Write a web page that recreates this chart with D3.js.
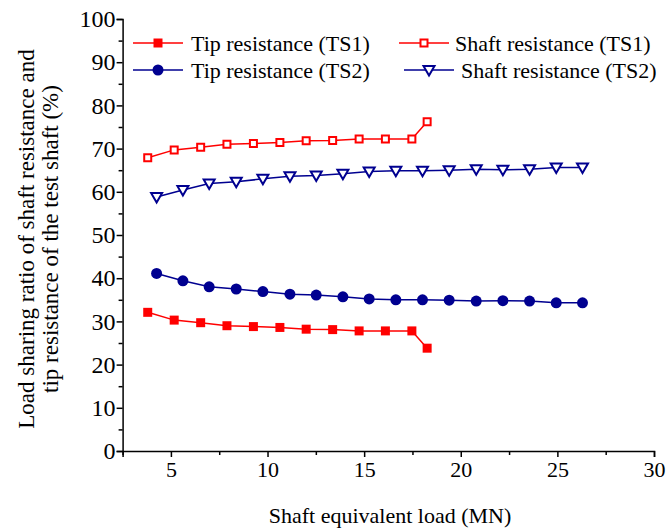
<!DOCTYPE html>
<html><head><meta charset="utf-8">
<script src="https://cdn.jsdelivr.net/npm/d3@7"></script>
<style>body{margin:0;background:#fff}svg{display:block}</style>
</head><body><div id="c"></div>
<script>
const xTS1 = [3.8, 5.17, 6.54, 7.9, 9.27, 10.64, 12.0, 13.37, 14.74, 16.1, 17.47, 18.26];
const tipTS1 = [32.1, 30.3, 29.7, 29.0, 28.8, 28.6, 28.2, 28.1, 27.8, 27.8, 27.8, 23.8];
const shaftTS1 = [67.9, 69.7, 70.3, 71.0, 71.2, 71.4, 71.8, 71.9, 72.2, 72.2, 72.2, 76.2];
const xTS2 = [4.26, 5.62, 6.98, 8.38, 9.76, 11.16, 12.52, 13.9, 15.26, 16.64, 18.02, 19.4, 20.8, 22.18, 23.56, 24.94, 26.3];
const tipTS2 = [41.1, 39.4, 38.0, 37.5, 36.9, 36.3, 36.1, 35.7, 35.2, 35.0, 35.0, 34.9, 34.7, 34.8, 34.7, 34.3, 34.3];
const shaftTS2 = [58.8, 60.4, 61.9, 62.3, 63.0, 63.6, 63.8, 64.2, 64.7, 64.9, 64.9, 65.0, 65.2, 65.1, 65.2, 65.6, 65.6];
const xTicks = [5, 10, 15, 20, 25, 30];
const yTicks = [0, 10, 20, 30, 40, 50, 60, 70, 80, 90, 100];
const seriesNames = ["Tip resistance (TS1)", "Shaft resistance (TS1)", "Tip resistance (TS2)", "Shaft resistance (TS2)"];

const FONT = "'Liberation Serif', 'Times New Roman', 'DejaVu Serif', serif";
const W = 666, H = 528;
const svg = d3.select("#c").append("svg").attr("width", W).attr("height", H);
const x = d3.scaleLinear().domain([2.5, 30]).range([122.6, 654]);
const y = d3.scaleLinear().domain([0, 100]).range([451, 19]);
const RED = "#ff0000", BLUE = "#000090";
const txt = (sel, fs = 22) => sel.style("font-family", FONT).style("font-size", fs + "px").attr("fill", "#000");

// axes
const xAxis = d3.axisBottom(x).tickValues(xTicks).tickSize(6).tickPadding(4).tickFormat(d3.format("d"));
const gx = svg.append("g").attr("transform", "translate(0,451)").call(xAxis);
gx.select(".domain").attr("stroke-width", 1.5);
gx.selectAll(".tick line").attr("stroke-width", 1.5);
gx.selectAll("text").call(txt, 22);
svg.append("g").attr("transform", "translate(0,451)")
  .call(d3.axisBottom(x).tickValues([2.5, 7.5, 12.5, 17.5, 22.5, 27.5]).tickSize(4).tickFormat(""))
  .call(g => { g.select(".domain").remove(); g.selectAll("line").attr("stroke-width", 1.5); });

const yAxis = d3.axisLeft(y).tickValues(yTicks).tickSize(6).tickPadding(1).tickFormat(d3.format("d"));
const gy = svg.append("g").attr("transform", "translate(122.6,0)").call(yAxis);
gy.select(".domain").attr("stroke-width", 1.5);
gy.selectAll(".tick line").attr("stroke-width", 1.5);
gy.selectAll("text").call(txt, 24);
svg.append("g").attr("transform", "translate(122.6,0)")
  .call(d3.axisLeft(y).tickValues(d3.range(5, 100, 10)).tickSize(4).tickFormat(""))
  .call(g => { g.select(".domain").remove(); g.selectAll("line").attr("stroke-width", 1.5); });

// titles
svg.append("text").attr("x", 390).attr("y", 523).attr("text-anchor", "middle").call(txt, 22)
  .text("Shaft equivalent load (MN)");
const yl = svg.append("text").attr("transform", "translate(0,239) rotate(-90)").attr("text-anchor", "middle").call(txt, 23);
yl.append("tspan").attr("x", 0).attr("y", 34).text("Load sharing ratio of shaft resistance and");
yl.append("tspan").attr("x", 0).attr("y", 58).text("tip resistance of the test shaft (%)");

const line = d3.line().x(d => x(d[0])).y(d => y(d[1]));
const sqr = d3.symbol().type(d3.symbolSquare).size(81)();
const sqrO = d3.symbol().type(d3.symbolSquare).size(49)();
const tri = "M-5.5,-4L5.5,-4L0,5.5Z";

function drawSeries(xs, ys, color, kind) {
  const data = xs.map((v, i) => [v, ys[i]]);
  svg.append("path").datum(data).attr("d", line).attr("fill", "none").attr("stroke", color).attr("stroke-width", 1.5);
  const g = svg.append("g");
  data.forEach(d => drawMarker(g, x(d[0]), y(d[1]), color, kind));
}
function drawMarker(g, cx, cy, color, kind) {
  if (kind === "sq") g.append("path").attr("d", sqr).attr("transform", `translate(${cx},${cy})`).attr("fill", color);
  else if (kind === "sqo") g.append("path").attr("d", sqrO).attr("transform", `translate(${cx},${cy})`).attr("fill", "#fff").attr("stroke", color).attr("stroke-width", 2);
  else if (kind === "ci") g.append("circle").attr("cx", cx).attr("cy", cy).attr("r", 5.5).attr("fill", color);
  else g.append("path").attr("d", tri).attr("transform", `translate(${cx},${cy})`).attr("fill", "#fff").attr("stroke", color).attr("stroke-width", 2);
}

drawSeries(xTS1, tipTS1, RED, "sq");
drawSeries(xTS1, shaftTS1, RED, "sqo");
drawSeries(xTS2, tipTS2, BLUE, "ci");
drawSeries(xTS2, shaftTS2, BLUE, "tri");

// legend
const leg = [
  {name: seriesNames[0], c: RED, k: "sq", x0: 133, y0: 43, tx: 191},
  {name: seriesNames[1], c: RED, k: "sqo", x0: 399, y0: 43, tx: 455},
  {name: seriesNames[2], c: BLUE, k: "ci", x0: 133, y0: 70, tx: 191},
  {name: seriesNames[3], c: BLUE, k: "tri", x0: 404, y0: 70, tx: 461}
];
const lg = svg.append("g");
leg.forEach(l => {
  lg.append("line").attr("x1", l.x0).attr("x2", l.x0 + 50).attr("y1", l.y0).attr("y2", l.y0).attr("stroke", l.c).attr("stroke-width", 1.5);
  drawMarker(lg, l.x0 + 25, l.y0, l.c, l.k);
  lg.append("text").attr("x", l.tx).attr("y", l.y0 + 8).call(txt, 22).text(l.name);
});
</script></body></html>
